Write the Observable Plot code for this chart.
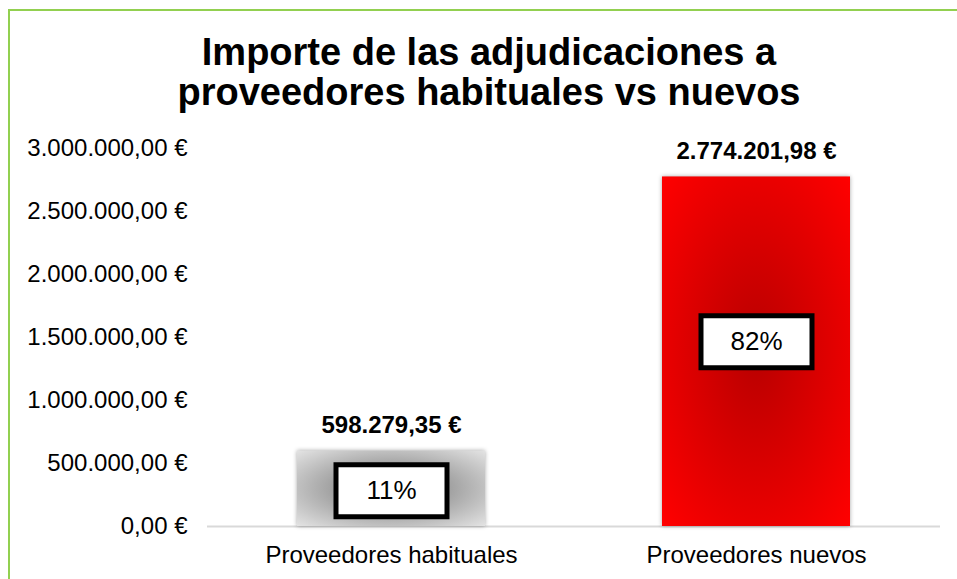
<!DOCTYPE html>
<html><head><meta charset="utf-8">
<script src="https://cdn.jsdelivr.net/npm/d3@7"></script>
<script src="https://cdn.jsdelivr.net/npm/@observablehq/plot@0.6"></script>
<style>
body{margin:0;background:#fff;}
#wrap{position:relative;width:957px;height:579px;overflow:hidden;font-family:"Liberation Sans",Arial,sans-serif;background:#fff;}
#bl{position:absolute;left:8px;top:9px;width:2px;bottom:0;background:#92d050;}
#bt{position:absolute;left:8px;top:9px;right:0;height:2px;background:#92d050;}
#title{position:absolute;left:0;top:32px;width:978px;text-align:center;font-weight:bold;font-size:38px;line-height:40px;color:#000;}
#chart{position:absolute;left:0;top:120px;}
</style></head><body>
<div id="wrap"><div id="bl"></div><div id="bt"></div>
<div id="title">Importe de las adjudicaciones a<br>proveedores habituales vs nuevos</div>
<div id="chart"></div></div>
<script>
const categories = ["Proveedores habituales", "Proveedores nuevos"];
const amounts = [598279.35, 2774201.98];
const shares = ["11%", "82%"];
const yTicks = [0, 500000, 1000000, 1500000, 2000000, 2500000, 3000000];

const data = categories.map((c, i) => ({cat: c, amount: amounts[i], share: shares[i], idx: i}));
const loc = d3.formatLocale({decimal: ",", thousands: ".", grouping: [3], currency: ["", " €"]});
const fmt = v => loc.format(",.2f")(v) + " €";
const gradIds = ["gGray", "gRed"];

const boxSymbol = {draw(ctx) { ctx.rect(-55.5, -26, 111, 52); }};
const shareMarks = (filter, dy) => [
  Plot.dot(data, {filter, x: "cat", y: d => d.amount / 2, dy, symbol: boxSymbol, r: 1, fill: "white", stroke: "black", strokeWidth: 5}),
  Plot.text(data, {filter, x: "cat", y: d => d.amount / 2, dy, text: "share", fontSize: 26, fill: "#000"})
];

const plot = Plot.plot({
  width: 957,
  height: 459,
  marginLeft: 207,
  marginRight: 17,
  marginTop: 28,
  marginBottom: 53,
  style: {fontFamily: '"Liberation Sans", Arial, sans-serif', color: "#000", background: "transparent"},
  x: {domain: categories, paddingInner: 0.486, paddingOuter: 0.246, label: null},
  y: {domain: [0, 3000000], label: null},
  marks: [
    Plot.axisY({ticks: yTicks, tickSize: 0, tickPadding: 20, fontSize: 24, tickFormat: fmt, label: null}),
    Plot.axisX({tickSize: 0, tickPadding: 19, fontSize: 24, label: null}),
    Plot.ruleY([0], {stroke: "#d9d9d9", strokeWidth: 2}),
    Plot.barY(data, {x: "cat", y: "amount"}),
    ...shareMarks(d => d.idx === 0, 2),
    ...shareMarks(d => d.idx === 1, -10),
    Plot.text(data, {x: "cat", y: "amount", text: d => fmt(d.amount), dy: -26, fontSize: 24, fontWeight: "bold", fill: "#000"})
  ]
});

const svg = d3.select(plot);
const defs = svg.insert("defs", ":first-child");
const g1 = defs.append("radialGradient").attr("id", "gGray").attr("cx", "50%").attr("cy", "50%").attr("r", "70%");
g1.append("stop").attr("offset", "0%").attr("stop-color", "#6e6e6e");
g1.append("stop").attr("offset", "100%").attr("stop-color", "#e2e2e2");
const g2 = defs.append("radialGradient").attr("id", "gRed").attr("cx", "50%").attr("cy", "50%").attr("r", "70%");
g2.append("stop").attr("offset", "0%").attr("stop-color", "#b80000");
g2.append("stop").attr("offset", "100%").attr("stop-color", "#ff0000");
svg.selectAll('g[aria-label="bar"] rect').each(function(d, i) {
  d3.select(this).attr("fill", `url(#${gradIds[i]})`);
});
svg.select('g[aria-label="bar"]').style("filter", "drop-shadow(0 0 2px rgba(0,0,0,0.35))");
document.getElementById("chart").appendChild(plot);
</script>
</body></html>
